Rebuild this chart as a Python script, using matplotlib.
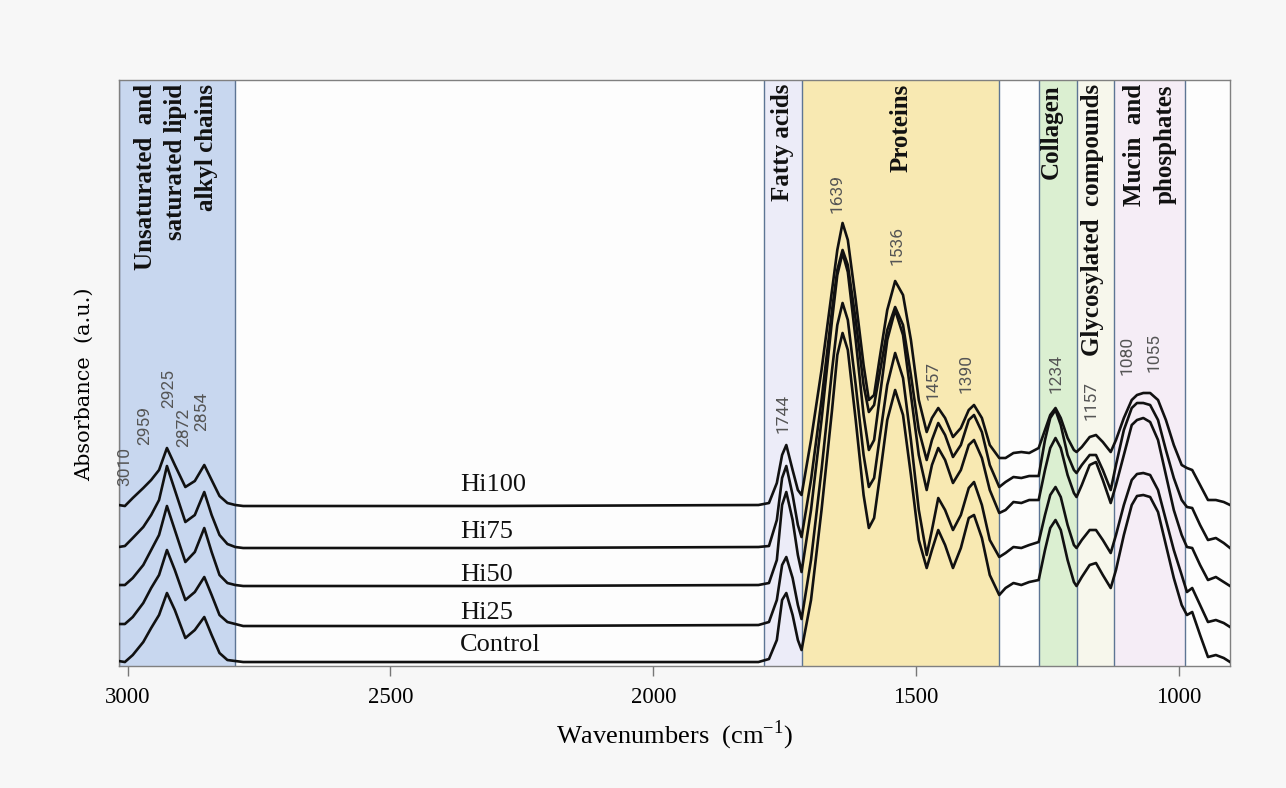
import numpy as np
import matplotlib.pyplot as plt
from matplotlib.transforms import blended_transform_factory

plt.rcParams['font.family'] = 'Liberation Serif'
plt.rcParams['mathtext.fontset'] = 'custom'
plt.rcParams['mathtext.rm'] = 'Liberation Serif'

# wavenumber grid (cm-1) the spectra were read on
wavenumber = [3017, 3005, 2990, 2970, 2955, 2940, 2925, 2910, 2890, 2872, 2854, 2840, 2825, 2810, 2795,
              2780, 2300, 1800,
              1780, 1765, 1755, 1747, 1735, 1725, 1718,
              1700, 1680, 1660, 1650, 1640, 1630, 1615, 1600, 1590, 1580,
              1570, 1555, 1540, 1525, 1510, 1495, 1480, 1470, 1458, 1445,
              1430, 1415, 1400, 1390, 1375, 1360, 1342,
              1330, 1315, 1300, 1285, 1267,
              1255, 1245, 1235, 1225, 1212, 1200, 1195, 1185, 1170, 1158,
              1145, 1130, 1120, 1105, 1090, 1080, 1068, 1055, 1040, 1025,
              1010, 995, 985, 975, 960, 945, 930, 915, 903]

# stacked absorbance (a.u.), offsets already included
hi100 = [161, 160, 168, 178, 186, 196, 218, 201, 179, 185, 201, 186, 170, 163, 161,
         160, 160, 161,
         163, 183, 211, 221, 196, 176, 171,
         226, 296, 376, 416, 443, 426, 366, 301, 266, 271,
         306, 356, 385, 371, 326, 266, 234, 248, 258, 248,
         229, 238, 256, 261, 248, 221, 208,
         208, 213, 214, 213, 218,
         236, 251, 258, 248, 228, 216, 214, 219, 229, 231,
         224, 214, 226, 248, 266, 271, 273, 273, 266, 246,
         221, 201, 198, 196, 181, 166, 166, 164, 161]
hi75 = [119, 120, 128, 139, 151, 166, 200, 176, 144, 151, 174, 151, 131, 122, 119,
        118, 118, 119,
        120, 146, 188, 200, 171, 141, 129,
        186, 266, 356, 396, 416, 401, 346, 281, 254, 261,
        291, 336, 359, 341, 291, 236, 206, 226, 243, 231,
        209, 221, 246, 251, 234, 201, 179,
        184, 189, 188, 190, 190,
        226, 248, 256, 241, 211, 196, 193, 201, 211, 211,
        196, 176, 201, 236, 258, 263, 263, 261, 246, 216,
        188, 166, 159, 158, 141, 126, 128, 123, 118]
hi50 = [81, 81, 88, 101, 116, 131, 160, 136, 104, 114, 138, 114, 91, 83, 81,
        80, 80, 81,
        83, 106, 161, 174, 146, 111, 94,
        156, 246, 346, 391, 413, 394, 326, 251, 216, 226,
        266, 326, 356, 331, 271, 211, 176, 201, 218, 206,
        183, 196, 221, 226, 208, 176, 153,
        156, 164, 163, 166, 166,
        196, 218, 228, 218, 191, 173, 169, 181, 201, 204,
        186, 163, 181, 211, 241, 246, 248, 244, 226, 191,
        156, 131, 119, 118, 101, 86, 89, 84, 80]
hi25 = [42, 42, 49, 63, 78, 91, 116, 96, 66, 74, 89, 71, 51, 44, 42,
        40, 40, 41,
        44, 66, 101, 109, 88, 61, 47,
        106, 196, 296, 341, 363, 346, 281, 211, 179, 188,
        226, 281, 313, 288, 226, 156, 111, 136, 168, 156,
        136, 151, 178, 184, 161, 126, 109,
        113, 119, 118, 121, 124,
        151, 171, 179, 169, 141, 121, 118, 126, 136, 136,
        126, 113, 131, 161, 186, 192, 193, 191, 176, 146,
        116, 91, 74, 78, 61, 44, 46, 43, 39]
control = [5, 4, 11, 24, 38, 51, 73, 56, 28, 36, 49, 31, 13, 6, 5,
           4, 4, 4,
           7, 26, 66, 73, 51, 26, 16,
           66, 156, 256, 311, 333, 316, 246, 171, 138, 148,
           186, 246, 276, 251, 191, 126, 98, 116, 136, 121,
           98, 118, 148, 151, 128, 91, 71,
           78, 83, 81, 84, 86,
           116, 138, 146, 136, 106, 84, 80, 89, 101, 103,
           91, 78, 96, 131, 161, 170, 171, 169, 154, 121,
           88, 61, 51, 54, 31, 9, 11, 8, 4]

samples = ['Hi100', 'Hi75', 'Hi50', 'Hi25', 'Control']
spectra = [hi100, hi75, hi50, hi25, control]

# assignment regions (start, end in cm-1)
band_names = ['Unsaturated  and\nsaturated lipid\nalkyl chains', 'Fatty acids', 'Proteins',
              'Collagen', 'Glycosylated  compounds', 'Mucin  and\nphosphates']
band_start = [3017, 1790, 1718, 1267, 1195, 1123]
band_end = [2795, 1718, 1342, 1195, 1123, 989]

peak_labels = ['3010', '2959', '2925', '2872', '2854', '1744', '1639', '1536',
               '1457', '1390', '1234', '1157', '1080', '1055']

# ---- layout / style ----
band_colors = ['#c8d7ef', '#ececf8', '#f8e9b2', '#dbefd1', '#f7f7ec', '#f5edf6']
band_text_x = [2908, 1754, 1528, 1243, 1165, 1056]
peak_x = [3005, 2967, 2921, 2893, 2858, 1754, 1650, 1537, 1467, 1406, 1233, 1167, 1098, 1047]
peak_y = [180, 221, 258, 219, 235, 233, 453, 401, 266, 273, 273, 246, 291, 294]
sample_text_y = [181, 134, 91, 53, 21]

fig = plt.figure(figsize=(12.86, 7.88), dpi=100, facecolor='#f7f7f7')
ax = fig.add_axes([0.0922, 0.1548, 0.8643, 0.7437])
ax.set_facecolor('#fdfdfd')

for s, e, c in zip(band_start, band_end, band_colors):
    ax.axvspan(s, e, color=c, zorder=0, lw=0)
for w in sorted(set(band_start + band_end)):
    ax.axvline(w, color='#5d7594', lw=1.0, zorder=1)

for vals in spectra:
    ax.plot(wavenumber, vals, color='#111111', lw=1.9, solid_joinstyle='round', zorder=3)

trans = blended_transform_factory(ax.transData, ax.transAxes)
for name, x in zip(band_names, band_text_x):
    ax.text(x, 0.993, name, transform=trans, rotation=90, ha='center', va='top',
            multialignment='right', fontsize=18, fontweight='bold', linespacing=1.4,
            color='#111111', zorder=4)

for lab, x, y in zip(peak_labels, peak_x, peak_y):
    ax.text(x, y, lab, rotation=90, ha='center', va='bottom', fontsize=12.5,
            family=['Liberation Sans Narrow', 'Roboto'], color='#555555', zorder=4)

for name, y in zip(samples, sample_text_y):
    ax.text(2368, y, name, ha='left', va='center', fontsize=19, color='#111111', zorder=4)

ax.set_xlim(3017, 903)
ax.set_ylim(0, 586)
ax.set_yticks([])
ax.set_xticks([3000, 2500, 2000, 1500, 1000])
ax.tick_params(axis='x', direction='out', length=7, width=1, color='#777777',
               labelsize=16.5, pad=8)
for sp in ax.spines.values():
    sp.set_color('#808080')
    sp.set_linewidth(1)

ax.set_xlabel('Wavenumbers  (cm$^{\\mathrm{-1}}$)', fontsize=19, labelpad=8)
ax.set_ylabel('Absorbance  (a.u.)', fontsize=15, family='DejaVu Serif')
ax.yaxis.set_label_coords(-0.022, 0.48)

fig.savefig('out.png', dpi=100, facecolor=fig.get_facecolor())
